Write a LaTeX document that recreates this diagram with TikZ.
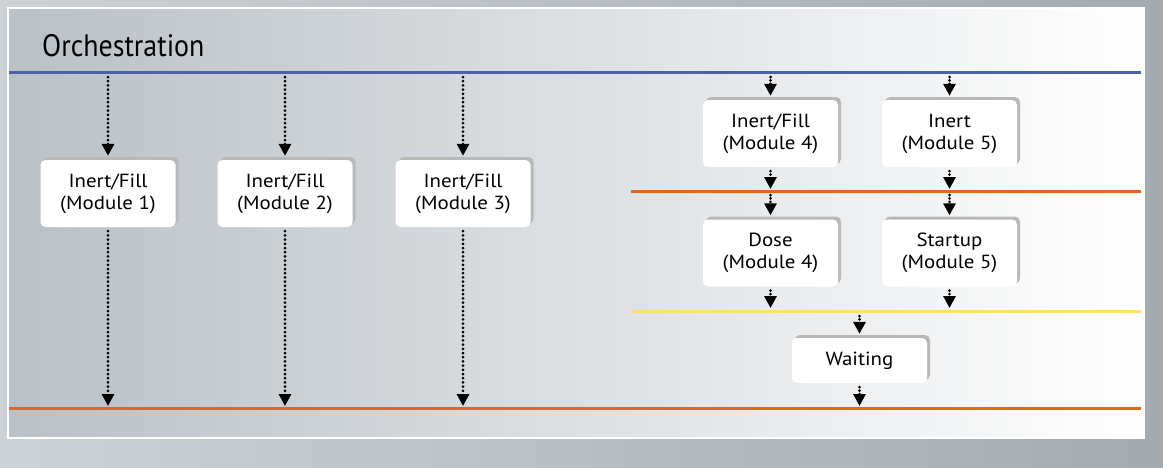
\documentclass[tikz,border=0pt]{standalone}
\usepackage{fontspec}
\setmainfont{PT Sans}
\newfontfamily\titlefont[FakeStretch=0.9]{PT Sans}
\newfontfamily\phasefont[FakeStretch=1.1]{PT Sans}
\usetikzlibrary{arrows.meta,shadows}

\definecolor{lineblue}{HTML}{4A62A6}
\definecolor{lineorange}{HTML}{E2671B}
\definecolor{lineyellow}{HTML}{FDE070}
\definecolor{bgleft}{HTML}{CDD2D6}
\definecolor{bgright}{HTML}{A3ABB1}
\definecolor{panelleft}{HTML}{B9C0C6}

\tikzset{
  phase/.style={fill=white, rounded corners=5pt, minimum width=135pt,
    minimum height=67pt, align=center, inner sep=2pt,
    font=\phasefont\fontsize{19}{22}\selectfont,
    general shadow={fill=black!28, shadow xshift=3pt, shadow yshift=3pt}},
  flow/.style={line width=3pt, dash pattern=on 0pt off 4.2pt, line cap=round,
    -{Triangle[width=12pt,length=12pt]}},
  shortflow/.style={flow, dash pattern=on 0pt off 3.4pt},
  lane/.style={line width=3pt},
}

\begin{document}
\begin{tikzpicture}[x=1pt, y=-1pt]
% background and panel
\fill[left color=bgleft, right color=bgright] (0,0) rectangle (1163,467);
\draw[white, line width=2pt, left color=panelleft, right color=white] (8,8) rectangle (1144,438);
\useasboundingbox (0,0) rectangle (1163,467);

\node[anchor=base west, font=\titlefont\fontsize{31}{34}\selectfont, inner sep=0pt] (title) at (42,56) {Orchestration};

% lanes
\draw[lane, lineblue] (9,72.5) -- (1141,72.5);
\draw[lane, lineorange] (9,408) -- (1141,408);
\draw[lane, lineorange] (631,191.5) -- (1141,191.5);
\draw[lane, lineyellow] (631,311) -- (1141,311);

% modules 1-3
\node[phase] (m1) at (108,193.5) {Inert/Fill\\(Module 1)};
\node[phase] (m2) at (285,193.5) {Inert/Fill\\(Module 2)};
\node[phase] (m3) at (463,193.5) {Inert/Fill\\(Module 3)};

\coordinate (s1) at (108,77);
\coordinate (s2) at (285,77);
\coordinate (s3) at (463,77);
\coordinate (e1) at (108,406);
\coordinate (e2) at (285,406);
\coordinate (e3) at (463,406);

\draw[flow, shorten >=4pt] (s1) -- (m1.north);
\draw[flow, shorten >=4pt] (s2) -- (m2.north);
\draw[flow, shorten >=4pt] (s3) -- (m3.north);
\draw[flow, shorten <=4pt] (m1.south) -- (e1);
\draw[flow, shorten <=4pt] (m2.south) -- (e2);
\draw[flow, shorten <=4pt] (m3.south) -- (e3);

% modules 4 and 5
\node[phase] (m4) at (770.5,133.5) {Inert/Fill\\(Module 4)};
\node[phase] (m5) at (949.5,133.5) {Inert\\(Module 5)};
\node[phase] (dose) at (770.5,253) {Dose\\(Module 4)};
\node[phase] (startup) at (949.5,253) {Startup\\(Module 5)};
\node[phase, minimum height=45pt] (wait) at (859.5,360.5) {Waiting};

\coordinate (t4) at (770.5,77);
\coordinate (t5) at (949.5,77);
\coordinate (o4) at (770.5,189);
\coordinate (o5) at (949.5,189);
\coordinate (p4) at (770.5,195);
\coordinate (p5) at (949.5,195);
\coordinate (y4) at (770.5,308);
\coordinate (y5) at (949.5,308);
\coordinate (yw) at (859.5,316);
\coordinate (ow) at (859.5,406);

\draw[shortflow, shorten >=4pt] (t4) -- (m4.north);
\draw[shortflow, shorten >=4pt] (t5) -- (m5.north);
\draw[shortflow, shorten <=4pt] (m4.south) -- (o4);
\draw[shortflow, shorten <=4pt] (m5.south) -- (o5);
\draw[shortflow, shorten >=4pt] (p4) -- (dose.north);
\draw[shortflow, shorten >=4pt] (p5) -- (startup.north);
\draw[shortflow, shorten <=4pt] (dose.south) -- (y4);
\draw[shortflow, shorten <=4pt] (startup.south) -- (y5);
\draw[shortflow, shorten >=4pt] (yw) -- (wait.north);
\draw[shortflow, shorten <=4pt] (wait.south) -- (ow);
\end{tikzpicture}
\end{document}
